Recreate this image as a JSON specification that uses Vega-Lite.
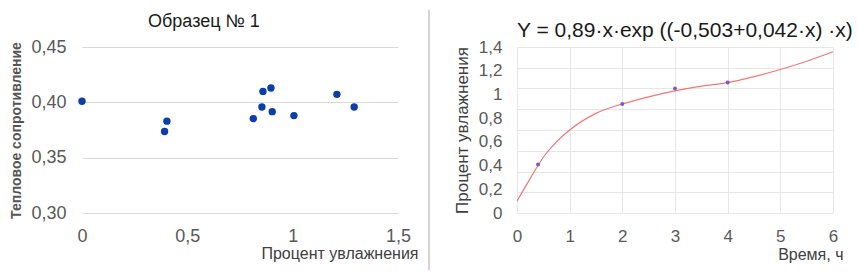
{
  "$schema": "https://vega.github.io/schema/vega-lite/v6.json",
  "padding": {"left": 9, "top": 8, "right": 5, "bottom": 5},
  "background": "white",
  "bounds": "flush",
  "spacing": 31,
  "config": {
    "font": "Liberation Sans",
    "view": {"stroke": null},
    "axis": {
      "labelColor": "#595959",
      "titleColor": "#404040",
      "titleFontWeight": "normal",
      "domain": false,
      "ticks": false,
      "labelFlush": false,
      "labelFont": "Liberation Sans",
      "titleFont": "Liberation Sans"
    },
    "title": {"font": "Liberation Sans", "fontWeight": "normal", "color": "#1a1a1a"}
  },
  "hconcat": [
    {
      "width": 316,
      "height": 166,
      "title": {"text": "Образец № 1", "anchor": "start", "frame": "group", "dx": 66, "fontSize": 18, "offset": 7},
      "data": {
        "values": [
          {"moisture": 0.0, "resistance": 0.401},
          {"moisture": 0.392, "resistance": 0.3736},
          {"moisture": 0.403, "resistance": 0.383},
          {"moisture": 0.813, "resistance": 0.3853},
          {"moisture": 0.854, "resistance": 0.3958},
          {"moisture": 0.859, "resistance": 0.4099},
          {"moisture": 0.897, "resistance": 0.4129},
          {"moisture": 0.903, "resistance": 0.3916},
          {"moisture": 1.006, "resistance": 0.388},
          {"moisture": 1.21, "resistance": 0.4072},
          {"moisture": 1.292, "resistance": 0.3958}
        ]
      },
      "mark": {"type": "circle", "size": 55, "opacity": 1, "color": "#0b3ea8"},
      "encoding": {
        "x": {
          "field": "moisture",
          "type": "quantitative",
          "scale": {"domain": [0, 1.5], "nice": false},
          "axis": {
            "values": [0, 0.5, 1, 1.5],
            "grid": false,
            "labelExpr": "replace(toString(datum.value), '.', ',')",
            "labelFontSize": 18,
            "labelPadding": 14,
            "title": "Процент увлажнения",
            "titleFontSize": 16,
            "titleX": 336,
            "titleY": 40,
            "titleAlign": "right",
            "titleBaseline": "middle",
            "titleAnchor": null
          }
        },
        "y": {
          "field": "resistance",
          "type": "quantitative",
          "scale": {"domain": [0.3, 0.45], "nice": false, "zero": false},
          "axis": {
            "values": [0.3, 0.35, 0.4, 0.45],
            "grid": true,
            "gridColor": "#d9d9d9",
            "labelExpr": "replace(format(datum.value, '.2f'), '.', ',')",
            "labelFontSize": 18,
            "labelPadding": 16,
            "title": "Тепловое сопротивление",
            "titleFontSize": 14,
            "titleFontWeight": "bold",
            "titleColor": "#555555",
            "titlePadding": 7
          }
        }
      }
    },
    {
      "width": 57,
      "height": 166,
      "data": {"values": [{"divider": "panel border"}]},
      "mark": {"type": "rule", "color": "#d4d4d4", "strokeWidth": 2},
      "encoding": {
        "x": {"datum": 0, "type": "quantitative", "scale": {"domain": [0, 1]}, "axis": null},
        "y": {"datum": 1.223, "type": "quantitative", "scale": {"domain": [0, 1], "nice": false, "zero": false}, "axis": null},
        "y2": {"datum": -0.343}
      }
    },
    {
      "width": 316,
      "height": 166,
      "title": {"text": "Y = 0,89·x·exp ((-0,503+0,042·x) ·x)", "anchor": "start", "frame": "group", "fontSize": 21, "offset": -3},
      "layer": [
        {
          "data": {
            "values": [
              {"time": 0, "fit": 0.10},
              {"time": 0.25, "fit": 0.29},
              {"time": 0.5, "fit": 0.47},
              {"time": 0.75, "fit": 0.60},
              {"time": 1, "fit": 0.70},
              {"time": 1.5, "fit": 0.84},
              {"time": 2, "fit": 0.92},
              {"time": 2.5, "fit": 0.98},
              {"time": 3, "fit": 1.03},
              {"time": 3.5, "fit": 1.07},
              {"time": 4, "fit": 1.10},
              {"time": 4.5, "fit": 1.15},
              {"time": 5, "fit": 1.21},
              {"time": 5.5, "fit": 1.28},
              {"time": 6, "fit": 1.36}
            ]
          },
          "mark": {"type": "line", "color": "#f07878", "strokeWidth": 1.2, "interpolate": "monotone"},
          "encoding": {
            "x": {
              "field": "time",
              "type": "quantitative",
              "scale": {"domain": [0, 6], "nice": false},
              "axis": {
                "values": [0, 1, 2, 3, 4, 5, 6],
                "grid": true,
                "gridColor": "#e6e6e6",
                "labelFontSize": 17,
                "labelPadding": 15,
                "title": "Время, ч",
                "titleFontSize": 16,
                "titleX": 326,
                "titleY": 41,
                "titleAlign": "right",
                "titleBaseline": "middle",
                "titleAnchor": null
              }
            },
            "y": {
              "field": "fit",
              "type": "quantitative",
              "scale": {"domain": [0, 1.4], "nice": false},
              "axis": {
                "orient": "left",
                "values": [0, 0.175, 0.35, 0.525, 0.7, 0.875, 1.05, 1.225, 1.4],
                "grid": true,
                "gridColor": "#e6e6e6",
                "labels": false,
                "title": null
              }
            }
          }
        },
        {
          "data": {
            "values": [
              {"time": 0.4, "moisture": 0.41},
              {"time": 2, "moisture": 0.92},
              {"time": 3, "moisture": 1.05},
              {"time": 4, "moisture": 1.10}
            ]
          },
          "mark": {"type": "circle", "size": 16, "opacity": 1, "color": "#7b5cc4"},
          "encoding": {
            "x": {"field": "time", "type": "quantitative"},
            "y": {
              "field": "moisture",
              "type": "quantitative",
              "axis": {
                "orient": "left",
                "values": [0, 0.2, 0.4, 0.6, 0.8, 1, 1.2, 1.4],
                "grid": false,
                "labelExpr": "replace(toString(datum.value), '.', ',')",
                "labelFontSize": 17,
                "labelPadding": 15,
                "title": "Процент увлажнения",
                "titleFontSize": 17,
                "titlePadding": 7
              }
            }
          }
        }
      ],
      "resolve": {"axis": {"y": "independent"}}
    }
  ]
}
